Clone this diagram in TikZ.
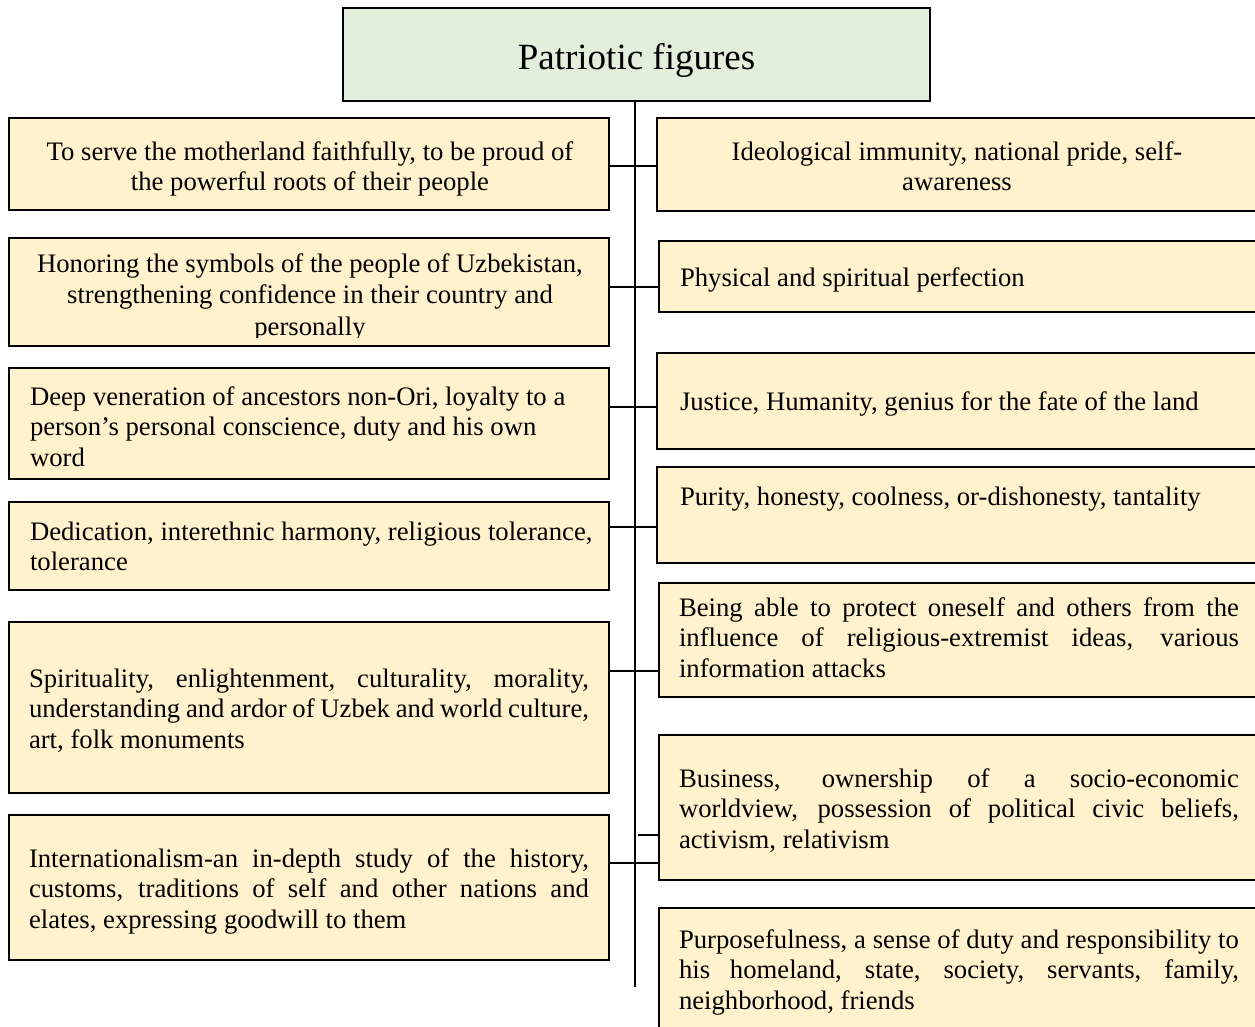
\documentclass[tikz,border=0pt]{standalone}
\usepackage{fontspec}
\setmainfont{Liberation Serif}
\definecolor{boxfill}{HTML}{FFF2CC}
\definecolor{titlefill}{HTML}{E2EFDA}
\tolerance=10000
\hyphenpenalty=10000
\exhyphenpenalty=10000
\emergencystretch=10pt
\newcommand\myrag{\raggedright\spaceskip=0pt\xspaceskip=0pt\relax}
\newcommand\mycen{\centering\spaceskip=0pt\xspaceskip=0pt\relax}
\newcommand\myjus{\spaceskip=0pt\xspaceskip=0pt\relax}
\begin{document}
\begin{tikzpicture}[x=1pt,y=1pt,
  box/.style={draw=black, line width=2.4pt, fill=boxfill, inner sep=0pt, outer sep=0pt, anchor=north west},
  titlebox/.style={draw=black, line width=2.4pt, fill=titlefill, inner sep=0pt, outer sep=0pt, anchor=north west},
  txt/.style={inner sep=0pt, outer sep=0pt, text width=580pt, anchor=base west,
    font=\fontsize{26.7}{30.6}\selectfont},
  jtxt/.style={txt, text width=560pt, align=justify},
  conn/.style={line width=2pt}]
\useasboundingbox (0,0) rectangle (1255,-1026);
% title
\node[titlebox, minimum width=587pt, minimum height=93pt] (T) at (343,-8) {};
\node[font=\fontsize{37}{42}\selectfont, anchor=base, inner sep=0pt] (Tt) at (636.5,-69) {Patriotic figures};
% left boxes
\node[box, minimum width=600pt, minimum height=92pt]  (L1) at (9,-118) {};
\node[box, minimum width=600pt, minimum height=108pt] (L2) at (9,-238) {};
\node[box, minimum width=600pt, minimum height=111pt] (L3) at (9,-368) {};
\node[box, minimum width=600pt, minimum height=88pt]  (L4) at (9,-502) {};
\node[box, minimum width=600pt, minimum height=171pt] (L5) at (9,-622) {};
\node[box, minimum width=600pt, minimum height=145pt] (L6) at (9,-815) {};
% right boxes
\node[box, minimum width=604pt, minimum height=93pt]  (R1) at (657,-118) {};
\node[box, minimum width=602pt, minimum height=71pt]  (R2) at (659,-241) {};
\node[box, minimum width=604pt, minimum height=96pt]  (R3) at (657,-353) {};
\node[box, minimum width=604pt, minimum height=96pt]  (R4) at (657,-467) {};
\node[box, minimum width=602pt, minimum height=114pt] (R5) at (659,-583) {};
\node[box, minimum width=602pt, minimum height=145pt] (R6) at (659,-735) {};
\node[box, minimum width=602pt, minimum height=160pt] (R7) at (659,-908) {};
% texts
\node[txt] (L1t) at (20,-160) {\mycen To serve the motherland faithfully, to be proud of\\the powerful roots of their people\par};
\begin{scope}
\clip (L2.north west) rectangle (L2.east |- 0,-337);
\node[txt, font=\fontsize{26.7}{31.5}\selectfont] (L2t) at (20,-272) {\mycen Honoring the symbols of the people of Uzbekistan,\\strengthening confidence in their country and\\personally\par};
\end{scope}
\node[txt] (L3t) at (30,-405) {\myrag Deep veneration of ancestors non-Ori, loyalty to a\\person's personal conscience, duty and his own\\word\par};
\node[txt] (L4t) at (30,-540) {\myrag Dedication, interethnic harmony, religious tolerance,\\tolerance\par};
\node[jtxt] (L5t) at (29,-687) {\myjus Spirituality, enlightenment, culturality, morality,\linebreak understanding and ardor of Uzbek and world culture,\linebreak art, folk monuments\par};
\node[jtxt] (L6t) at (29,-867) {\myjus Internationalism-an in-depth study of the history,\linebreak customs, traditions of self and other nations and\linebreak elates, expressing goodwill to them\par};
\node[txt] (R1t) at (667,-160) {\mycen Ideological immunity, national pride, self-\\awareness\par};
\node[txt] (R2t) at (680,-286) {\myrag Physical and spiritual perfection\par};
\node[txt] (R3t) at (680,-410) {\myrag Justice, Humanity, genius for the fate of the land\par};
\node[txt] (R4t) at (680,-505) {\myrag Purity, honesty, coolness, or-dishonesty, tantality\par};
\node[jtxt] (R5t) at (679,-616) {\myjus Being able to protect oneself and others from the\linebreak influence of religious-extremist ideas, various\linebreak information attacks\par};
\node[jtxt] (R6t) at (679,-787) {\myjus Business, ownership of a socio-economic\linebreak worldview, possession of political civic beliefs,\linebreak activism, relativism\par};
\node[jtxt] (R7t) at (679,-948) {\myjus Purposefulness, a sense of duty and responsibility to\linebreak his homeland, state, society, servants, family,\linebreak neighborhood, friends\par};
% spine and junctions
\coordinate (spineend) at (634,-987);
\draw[conn] (Tt |- T.south) ++(-2,0) coordinate (spinetop) -- (spinetop |- spineend);
\coordinate (j1) at (633,-166);
\coordinate (j2) at (633,-287);
\coordinate (j3) at (633,-407);
\coordinate (j4) at (633,-527);
\coordinate (j5) at (633,-671);
\coordinate (j6) at (633,-863);
\coordinate (s6) at (638,-835);
\draw[conn] (L1.east |- j1) -- (R1.west |- j1);
\draw[conn] (L2.east |- j2) -- (R2.west |- j2);
\draw[conn] (L3.east |- j3) -- (R3.west |- j3);
\draw[conn] (L4.east |- j4) -- (R4.west |- j4);
\draw[conn] (L5.east |- j5) -- (R5.west |- j5);
\draw[conn] (L6.east |- j6) -- (R6.west |- j6);
\draw[conn] (s6) -- (R6.west |- s6);
\end{tikzpicture}
\end{document}
